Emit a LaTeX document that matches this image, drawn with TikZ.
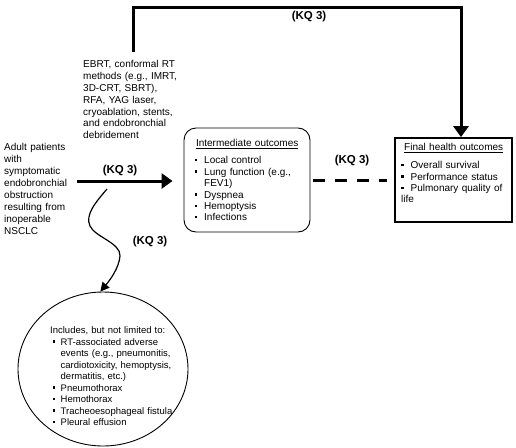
\documentclass[tikz,border=0pt]{standalone}
\usepackage{fontspec}
\setmainfont{Liberation Sans}
\usetikzlibrary{arrows.meta,shapes.geometric}
\newcommand{\sqb}{\raisebox{0.25em}{\rule{2.3pt}{2.3pt}}}
\newcommand{\bitem}[3]{\par\noindent\hangindent=#2\hangafter=1\makebox[#2][l]{\hspace*{#1}\sqb}#3}
\begin{document}
\begin{tikzpicture}[x=1pt,y=-1pt,
  txt/.style={anchor=north west, inner sep=0pt, align=left, text width=#1},
  txt/.default=130pt,
  kq/.style={font=\fontsize{11.5}{13}\selectfont\bfseries, inner sep=0pt},
  bigarrow/.style={line width=3pt, -{Triangle[length=11pt,width=15pt]}},
  thinarrow/.style={line width=1.2pt, -{Triangle[length=9pt,width=9pt]}},
  dashline/.style={line width=3pt, dash pattern=on 12pt off 10pt},
  interbox/.style={draw, line width=0.9pt, rounded corners=12pt, minimum width=126pt, minimum height=104pt, inner sep=0pt},
  finalbox/.style={draw, line width=1.8pt, minimum width=117pt, minimum height=84pt, inner sep=0pt},
  aeell/.style={draw, ellipse, line width=0.9pt, minimum width=170pt, minimum height=154pt, inner sep=0pt}
]
\useasboundingbox (0,0) rectangle (516,447);

% boxes
\node[interbox] (inter) at (247,180) {};
\node[finalbox] (final) at (453.5,180) {};
\node[aeell] (ae) at (103,369) {};

% population
\node[txt=80pt, font=\fontsize{10}{12}\selectfont] (pop) at (4,143.4)
 {Adult patients\\with\\symptomatic\\endobronchial\\obstruction\\resulting from\\inoperable\\NSCLC};

% interventions
\node[txt=110pt, font=\fontsize{10}{11.8}\selectfont] (interv) at (83,60.4)
 {EBRT, conformal RT\\methods (e.g., IMRT,\\3D-CRT, SBRT),\\RFA, YAG laser,\\cryoablation, stents,\\and endobronchial\\debridement};

% intermediate outcomes text
\node[txt=130pt, font=\fontsize{10}{11.4}\selectfont] (intertext) at (194.5,139.4)
 {\makebox[105pt]{\underline{Intermediate outcomes}}\par\vspace{5.6pt}%
  \bitem{0pt}{9.5pt}{Local control}%
  \bitem{0pt}{9.5pt}{Lung function (e.g.,\newline FEV1)}%
  \bitem{0pt}{9.5pt}{Dyspnea}%
  \bitem{0pt}{9.5pt}{Hemoptysis}%
  \bitem{0pt}{9.5pt}{Infections}};

% final outcomes text
\node[txt=130pt, font=\fontsize{10}{11.3}\selectfont] (finaltext) at (401,143.4)
 {\makebox[105pt]{\underline{Final health outcomes}}\par\vspace{6.7pt}%
  \bitem{0pt}{9.5pt}{Overall survival}%
  \bitem{0pt}{9.5pt}{Performance status}%
  \bitem{0pt}{9.5pt}{Pulmonary quality of\newline life}};

% adverse events text
\node[txt=150pt, font=\fontsize{9.5}{11.5}\selectfont] (aetext) at (50,326.5)
 {Includes, but not limited to:%
  \bitem{2.5pt}{10.5pt}{RT-associated adverse\newline events (e.g., pneumonitis,\newline cardiotoxicity, hemoptysis,\newline dermatitis, etc.)}%
  \bitem{2.5pt}{10.5pt}{Pneumothorax}%
  \bitem{2.5pt}{10.5pt}{Hemothorax}%
  \bitem{2.5pt}{10.5pt}{Tracheoesophageal fistula}%
  \bitem{2.5pt}{10.5pt}{Pleural effusion}};

% KQ labels
\node[kq] (kqtop) at (309,16.5) {(KQ 3)};
\node[kq] (kqmain) at (120,171) {(KQ 3)};
\node[kq] (kqae) at (150,242) {(KQ 3)};
\node[kq] (kqdash) at (352,161) {(KQ 3)};

% connectors
\coordinate (tstart) at (133,52);
\coordinate (tcorner) at (461,7);
\draw[bigarrow] (tstart) |- (tcorner) -- (tcorner |- final.north);

\coordinate (mstart) at (77,181);
\draw[bigarrow, shorten >=11pt] (mstart) -- (mstart -| inter.west);

\draw[dashline, shorten <=3pt, shorten >=7pt] (inter.east) -- (final.west);

\coordinate (cstart) at (107,189);
\draw[thinarrow] (cstart) .. controls (95,203) and (85,215) .. (90,226)
  .. controls (95,237) and (121,243) .. (120,256)
  .. controls (119,268) and (110,280) .. (ae.92);
\end{tikzpicture}
\end{document}
